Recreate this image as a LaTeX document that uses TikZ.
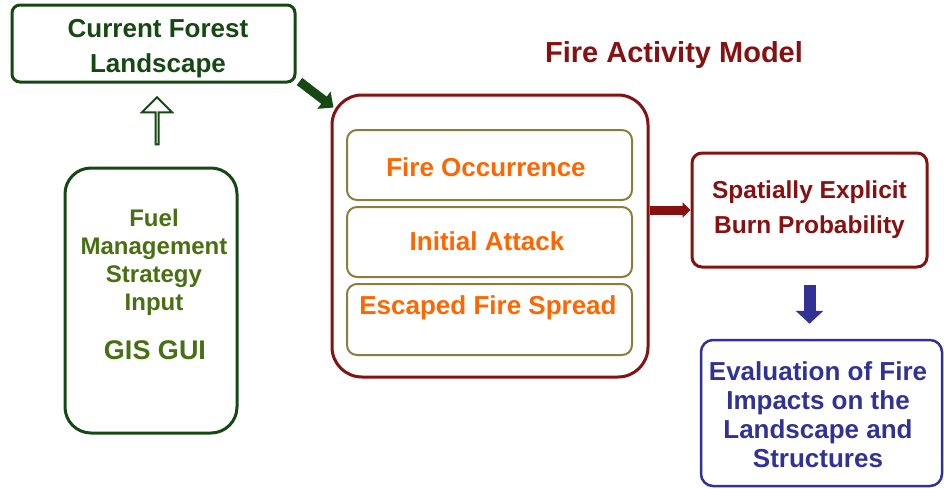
\documentclass[tikz,border=0pt]{standalone}
\usepackage{fontspec}
\setmainfont{Liberation Sans}
\usetikzlibrary{arrows.meta,shapes.arrows}

\definecolor{dgreen}{RGB}{22,72,20}
\definecolor{fgreen}{RGB}{72,112,18}
\definecolor{dred}{RGB}{135,16,16}
\definecolor{olivebd}{RGB}{140,125,60}
\definecolor{fireorange}{RGB}{255,102,0}
\definecolor{evblue}{RGB}{50,50,150}

\tikzset{
  boxbase/.style={rectangle, inner sep=0pt, fill=white},
  txt/.style={font=\bfseries\fontsize{26}{35}\selectfont, align=center, inner sep=0pt},
  stagebox/.style={boxbase, draw=olivebd, line width=2pt, rounded corners=10pt,
    minimum width=285pt, minimum height=70pt},
  stagetxt/.style={txt, text=fireorange},
}

\begin{document}
\begin{tikzpicture}[x=1pt,y=-1pt]
\useasboundingbox[fill=white] (0,0) rectangle (944,488);

% input side
\node[boxbase, draw=dgreen, line width=3pt, rounded corners=8pt,
      minimum width=283pt, minimum height=77pt] (cur) at (153.5,43.5) {};
\node[txt, text=dgreen] (curtxt) at (158,49) {Current Forest\\Landscape};

\node[boxbase, draw=dgreen, line width=3pt, rounded corners=26pt,
      minimum width=172pt, minimum height=265pt] (fuel) at (151,300.5) {};
\node[txt, text=fgreen, font=\bfseries\fontsize{24}{28}\selectfont] (fueltxt) at (154,262)
      {Fuel\\Management\\Strategy\\Input};
\node[txt, text=fgreen, font=\bfseries\fontsize{27}{30}\selectfont] (gis) at (155,350) {GIS GUI};

\node[single arrow, draw=dgreen, line width=2pt, fill=white, rotate=90,
      minimum height=47pt, minimum width=30pt, single arrow head extend=9pt,
      inner sep=0pt] (upar) at (157,121.5) {};

% fire activity model
\node[txt, text=dred, font=\bfseries\fontsize{29}{32}\selectfont] (famtitle) at (674,55) {Fire Activity Model};
\node[boxbase, draw=dred, line width=3pt, rounded corners=30pt,
      minimum width=316pt, minimum height=282pt] (fam) at (490,236) {};

\node[stagebox] (occ) at (489.5,165) {};
\node[stagetxt] (occtxt) at (486,167) {Fire Occurrence};
\node[stagebox] (ia) at (489.5,242) {};
\node[stagetxt] (iatxt) at (487,241) {Initial Attack};
\node[stagebox, minimum height=71pt] (esc) at (489.5,319.5) {};
\node[stagetxt] (esctxt) at (488,308) {Escaped Fire Spread};

\draw[dgreen, line width=9pt, -{Triangle[length=12pt,width=21pt]}]
  ([shift={(3,-2)}]cur.south east) -- ([shift={(3,14)}]fam.north west);

% outputs
\node[boxbase, draw=dred, line width=3pt, rounded corners=10pt,
      minimum width=235pt, minimum height=114pt] (sp) at (809.5,210) {};
\node[txt, text=dred, font=\bfseries\fontsize{24.5}{35}\selectfont] (sptxt) at (sp.center) {Spatially Explicit\\Burn Probability};

\draw[dred, line width=9pt, -{Triangle[length=8pt,width=15pt]}]
  (sp.west -| fam.east) -- (sp.west);

\node[boxbase, draw=evblue, line width=2.5pt, rounded corners=12pt,
      minimum width=241pt, minimum height=146pt] (ev) at (821.5,413) {};
\node[txt, text=evblue, font=\bfseries\fontsize{26}{29}\selectfont] (evtxt) at (818,415)
      {Evaluation of Fire\\Impacts on the\\Landscape and\\Structures};

\draw[evblue, line width=12pt, -{Triangle[length=13pt,width=27pt]}]
  ([yshift=-16pt]sp.south) -- ([yshift=15pt]sp.south |- ev.north);
\end{tikzpicture}
\end{document}
